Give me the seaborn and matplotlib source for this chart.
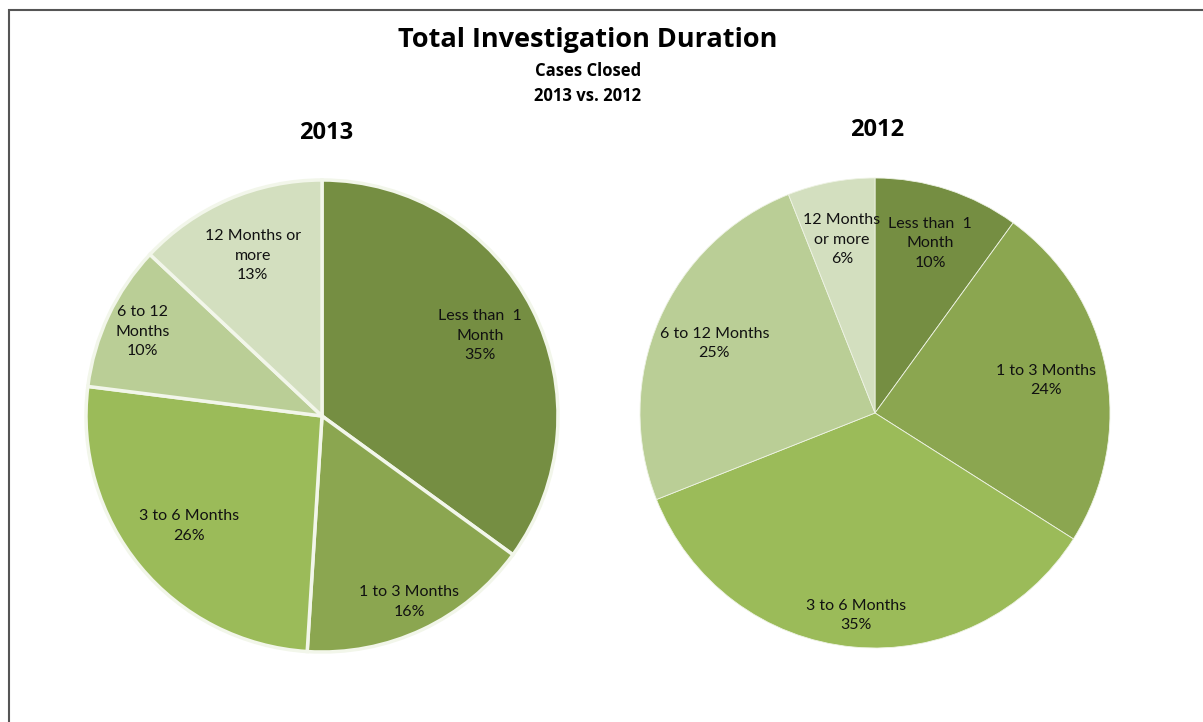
import matplotlib
matplotlib.use("Agg")
import matplotlib.pyplot as plt
import seaborn as sns
import numpy as np
from matplotlib.patches import Rectangle

sns.set_theme(style="white")
plt.rcParams['font.family'] = ['Lato', 'DejaVu Sans']

categories = ["Less than  1\nMonth", "1 to 3 Months", "3 to 6 Months",
              "6 to 12\nMonths", "12 Months or\nmore"]
categories_2012 = ["Less than  1\nMonth", "1 to 3 Months", "3 to 6 Months",
                   "6 to 12 Months", "12 Months\nor more"]
values_2013 = [35, 16, 26, 10, 13]
values_2012 = [10, 24, 35, 25, 6]
colors = ["#758E42", "#8BA650", "#9BBB59", "#BACE96", "#D3DFBF"]

# label distance (fraction of radius) per slice, style only
label_dist_2013 = [0.75, 0.87, 0.73, 0.84, 0.74]
label_dist_2012 = [0.76, 0.74, 0.865, 0.745, 0.75]

W, H = 1203, 722
fig = plt.figure(figsize=(W / 100, H / 100), dpi=100)

# chart border (left and top visible)
fig.patches.append(Rectangle((8.5 / W, -0.1), 1.2, (H - 9.5) / H + 0.1,
                             transform=fig.transFigure, fill=False,
                             edgecolor="#555555", linewidth=1.5))

BOLD = ['Open Sans', 'DejaVu Sans']


def draw_pie(cx, cy, r, vals, labels, dists, edge, lw):
    ax = fig.add_axes([(cx - r) / W, (H - cy - r) / H, 2 * r / W, 2 * r / H])
    wedges, _ = ax.pie(vals, colors=colors, startangle=90, counterclock=False,
                       wedgeprops=dict(edgecolor=edge, linewidth=lw))
    for w, lab, v, d in zip(wedges, labels, vals, dists):
        w.set_clip_on(False)
        ang = np.deg2rad((w.theta1 + w.theta2) / 2)
        ax.text(d * np.cos(ang), d * np.sin(ang), f"{lab}\n{v}%",
                ha="center", va="center", fontsize=11.5, color="#111111",
                linespacing=1.5)
    ax.set_xlim(-1, 1)
    ax.set_ylim(-1, 1)
    ax.set_aspect("equal")
    ax.axis("off")
    return ax


draw_pie(322, 416, 236, values_2013, categories, label_dist_2013, "#F2F6EA", 2.5)
draw_pie(875, 413, 235, values_2012, categories_2012, label_dist_2012, "#EEF3E4", 0.6)

fig.text(326 / W, 1 - 133 / H, "2013", ha="center", va="center",
         fontsize=17, fontweight="bold", color="black", family=BOLD)
fig.text(877 / W, 1 - 130 / H, "2012", ha="center", va="center",
         fontsize=17, fontweight="bold", color="black", family=BOLD)

fig.text(588 / W, 1 - 40 / H, "Total Investigation Duration", ha="center", va="center",
         fontsize=19.5, fontweight="bold", color="black", family=BOLD)
fig.text(588 / W, 1 - 71 / H, "Cases Closed", ha="center", va="center",
         fontsize=12, fontweight="bold", color="black", family=BOLD)
fig.text(588 / W, 1 - 96 / H, "2013 vs. 2012", ha="center", va="center",
         fontsize=12, fontweight="bold", color="black", family=BOLD)

fig.savefig("out.png", dpi=100, facecolor="white")
